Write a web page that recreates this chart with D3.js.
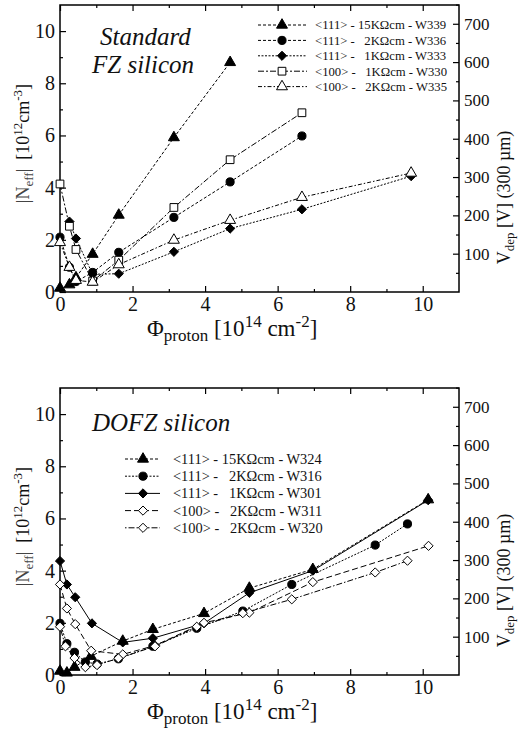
<!DOCTYPE html>
<html><head><meta charset="utf-8">
<script src="https://cdn.jsdelivr.net/npm/d3@7"></script>
<style>
body{margin:0;background:#fff}
svg{display:block}
text{font-family:"Liberation Serif","Times New Roman",serif;fill:#111}
</style>
</head><body>
<svg id="c" width="520" height="729"></svg>
<script>
// ---------- data ----------
const xMajorTicks = [0, 2, 4, 6, 8, 10];
const xMinorTicks = [1, 3, 5, 7, 9];
const yMajorTicks = [0, 2, 4, 6, 8, 10];
const yMinorTicks = [1, 3, 5, 7, 9];
const vMajorTicks = [100, 200, 300, 400, 500, 600, 700];
const vMinorTicks = [50, 150, 250, 350, 450, 550, 650, 750];

// Standard FZ silicon: [fluence 1e14 cm^-2, |Neff| 1e12 cm^-3]
const topW339 = [[0,0.15],[0.26,0.28],[0.44,0.55],[0.9,1.45],[1.62,2.95],[3.14,5.92],[4.69,8.8]];
const topW336 = [[0,2.1],[0.26,0.95],[0.44,0.4],[0.9,0.75],[1.62,1.52],[3.14,2.86],[4.69,4.22],[6.67,5.98]];
const topW333 = [[0.26,2.7],[0.44,2.05],[0.9,0.68],[1.62,0.7],[3.14,1.54],[4.69,2.43],[6.67,3.17],[9.68,4.44]];
const topW330 = [[0,4.14],[0.26,2.52],[0.44,1.63],[0.9,0.42],[1.62,1.22],[3.14,3.24],[4.69,5.07],[6.67,6.87]];
const topW335 = [[0,1.9],[0.26,0.95],[0.44,0.45],[0.9,0.38],[1.62,1.05],[3.14,1.99],[4.69,2.75],[6.67,3.63],[9.68,4.56]];
const topLabels = ["<111> - 15K\u03A9cm - W339","<111> -   2K\u03A9cm - W336","<111> -   1K\u03A9cm - W333","<100> -   1K\u03A9cm - W330","<100> -   2K\u03A9cm - W335"];

// DOFZ silicon
const botW324 = [[0,0.15],[0.19,0.08],[0.4,0.3],[0.85,0.72],[1.73,1.3],[2.56,1.75],[3.97,2.36],[5.22,3.33],[6.97,4.05],[10.15,6.72]];
const botW316 = [[0,1.98],[0.19,1.2],[0.4,0.87],[0.7,0.5],[1.02,0.42],[1.61,0.62],[2.56,1.1],[3.77,1.79],[5.04,2.45],[6.39,3.47],[8.69,4.98],[9.58,5.79]];
const botW301 = [[0,4.37],[0.19,3.47],[0.42,2.98],[0.88,1.98],[1.73,1.25],[2.56,1.41],[3.97,1.98],[5.22,3.15],[6.97,4.0],[10.15,6.7]];
const botW311 = [[0,3.47],[0.19,2.55],[0.42,1.95],[0.86,0.93],[1.73,0.79],[2.62,1.13],[3.97,2.0],[5.22,2.39],[6.97,3.56],[10.16,4.95]];
const botW320 = [[0,1.85],[0.15,1.1],[0.4,0.65],[0.7,0.3],[1.02,0.38],[1.61,0.64],[2.62,1.1],[3.77,1.85],[5.04,2.37],[6.39,2.9],[8.69,3.93],[9.58,4.38]];
const botLabels = ["<111> - 15K\u03A9cm - W324","<111> -   2K\u03A9cm - W316","<111> -   1K\u03A9cm - W301","<100> -   2K\u03A9cm - W311","<100> -   2K\u03A9cm - W320"];

// ---------- drawing ----------
const svg = d3.select("#c");
const X0 = 60, X1 = 459;
const x = d3.scaleLinear().domain([0, 11]).range([X0, X1]);

function symPath(kind) {
  if (kind === "tri") return d3.symbol(d3.symbolTriangle, 52)();
  if (kind === "circ") return d3.symbol(d3.symbolCircle, 52)();
  if (kind === "sq") return d3.symbol(d3.symbolSquare, 60)();
  if (kind === "dia") return "M0,-4.6L4.6,0L0,4.6L-4.6,0Z";
}

function drawMarker(g, kind, filled, cx, cy) {
  g.append("path").attr("d", symPath(kind))
    .attr("transform", `translate(${cx},${cy})`)
    .attr("fill", filled ? "#000" : "#fff")
    .attr("stroke", "#000").attr("stroke-width", 1);
}

function panel(yTop, yBot, series, labels, legend, titleLines, titleX, titleY0) {
  const y = d3.scaleLinear().domain([0, 11]).range([yBot, yTop]);
  const v = d3.scaleLinear().domain([0, 749]).range([yBot, yTop]);
  const g = svg.append("g");

  // axes (ticks inward)
  const ax = (a) => a.tickSizeOuter(0);
  g.append("g").attr("transform", `translate(0,${yBot})`)
    .call(ax(d3.axisBottom(x).tickValues(xMajorTicks).tickSize(-6).tickPadding(5).tickFormat(d3.format("d"))))
    .call(s => s.selectAll("text").attr("font-size", 20).style("font-family", "Liberation Serif"));
  g.append("g").attr("transform", `translate(0,${yBot})`)
    .call(ax(d3.axisBottom(x).tickValues(xMinorTicks).tickSize(-3).tickFormat("")));
  g.append("g").attr("transform", `translate(0,${yTop})`)
    .call(ax(d3.axisTop(x).tickValues(xMajorTicks).tickSize(-6).tickFormat("")));
  g.append("g").attr("transform", `translate(0,${yTop})`)
    .call(ax(d3.axisTop(x).tickValues(xMinorTicks).tickSize(-3).tickFormat("")));
  g.append("g").attr("transform", `translate(${X0},0)`)
    .call(ax(d3.axisLeft(y).tickValues(yMajorTicks).tickSize(-6).tickPadding(5).tickFormat(d3.format("d"))))
    .call(s => s.selectAll("text").attr("font-size", 20).style("font-family", "Liberation Serif"));
  g.append("g").attr("transform", `translate(${X0},0)`)
    .call(ax(d3.axisLeft(y).tickValues(yMinorTicks).tickSize(-3).tickFormat("")));
  g.append("g").attr("transform", `translate(${X1},0)`)
    .call(ax(d3.axisRight(v).tickValues(vMajorTicks).tickSize(-6).tickPadding(5).tickFormat(d3.format("d"))))
    .call(s => s.selectAll("text").attr("font-size", 17).style("font-family", "Liberation Serif"));
  g.append("g").attr("transform", `translate(${X1},0)`)
    .call(ax(d3.axisRight(v).tickValues(vMinorTicks).tickSize(-3).tickFormat("")));
  g.selectAll(".domain").remove();
  g.selectAll(".tick line").attr("stroke", "#000").attr("stroke-width", 1.2);

  g.append("rect").attr("x", X0).attr("y", yTop).attr("width", X1 - X0).attr("height", yBot - yTop)
    .attr("fill", "none").attr("stroke", "#000").attr("stroke-width", 1.5);

  // data
  const line = d3.line().x(d => x(d[0])).y(d => y(d[1]));
  series.forEach(s => {
    g.append("path").attr("d", line(s.data)).attr("fill", "none")
      .attr("stroke", "#000").attr("stroke-width", 1)
      .attr("stroke-dasharray", s.dash);
  });
  series.forEach(s => {
    s.data.forEach(d => drawMarker(g, s.kind, s.filled, x(d[0]), y(d[1])));
  });

  // legend
  series.forEach((s, i) => {
    const ly = legend.y0 + i * legend.dy;
    g.append("line").attr("x1", legend.lx0).attr("x2", legend.lx1).attr("y1", ly).attr("y2", ly)
      .attr("stroke", "#000").attr("stroke-width", 1).attr("stroke-dasharray", s.dash);
    drawMarker(g, s.kind, s.filled, legend.mx, ly);
    g.append("text").attr("x", legend.tx).attr("y", ly).attr("dy", "0.35em")
      .attr("font-size", legend.fs).style("white-space", "pre").text(labels[i]);
  });

  // title
  titleLines.forEach((t, i) => {
    g.append("text").attr("x", titleX[i]).attr("y", titleY0 + i * 28)
      .attr("font-size", 25).attr("font-style", "italic").text(t);
  });

  // y title (left)
  const cyL = (yTop + yBot) / 2 - 5;
  const tl = g.append("text").attr("transform", `translate(29,${cyL}) rotate(-90)`)
    .attr("text-anchor", "middle").attr("font-size", 18);
  tl.append("tspan").attr("fill", "#444").text("|N");
  tl.append("tspan").attr("fill", "#444").attr("font-size", 13).attr("dy", 4).text("eff");
  tl.append("tspan").attr("fill", "#444").attr("dy", -4).text("|");
  tl.append("tspan").style("white-space", "pre").text("  [10");
  tl.append("tspan").attr("font-size", 13).attr("dy", -7).text("12");
  tl.append("tspan").attr("dy", 7).text("cm");
  tl.append("tspan").attr("font-size", 13).attr("dy", -7).text("-3");
  tl.append("tspan").attr("dy", 7).text("]");

  // y title (right)
  const cyR = (yTop + yBot) / 2 + 49;
  const tr = g.append("text").attr("transform", `translate(510,${cyR}) rotate(-90)`)
    .attr("text-anchor", "middle").attr("font-size", 18);
  tr.append("tspan").text("V");
  tr.append("tspan").attr("font-size", 13).attr("dy", 4).text("dep");
  tr.append("tspan").attr("dy", -4).style("white-space", "pre").text(" [V] (300 \u00B5m)");

  // x title
  const tx = g.append("text").attr("x", 147).attr("y", yBot + 44).attr("font-size", 23);
  tx.append("tspan").text("\u03A6");
  tx.append("tspan").attr("font-size", 17).attr("dy", 5).text("proton");
  tx.append("tspan").attr("dy", -5).style("white-space", "pre").text(" [10");
  tx.append("tspan").attr("font-size", 17).attr("dy", -9).text("14");
  tx.append("tspan").attr("dy", 9).style("white-space", "pre").text(" cm");
  tx.append("tspan").attr("font-size", 17).attr("dy", -9).text("-2");
  tx.append("tspan").attr("dy", 9).text("]");
}

panel(5, 292, [
  {data: topW339, kind: "tri", filled: true, dash: "3,2"},
  {data: topW336, kind: "circ", filled: true, dash: "3,2"},
  {data: topW333, kind: "dia", filled: true, dash: "2,1.5"},
  {data: topW330, kind: "sq", filled: false, dash: "6,2,2,2"},
  {data: topW335, kind: "tri", filled: false, dash: "4,2,1.5,2"}
], topLabels, {y0: 25, dy: 15.4, lx0: 258, lx1: 307, mx: 282, tx: 315, fs: 12.7},
["Standard", "FZ silicon"], [100, 92], 45);

panel(388, 675, [
  {data: botW324, kind: "tri", filled: true, dash: "3,2"},
  {data: botW316, kind: "circ", filled: true, dash: "2,1.5"},
  {data: botW301, kind: "dia", filled: true, dash: null},
  {data: botW311, kind: "dia", filled: false, dash: "6,3"},
  {data: botW320, kind: "dia", filled: false, dash: "1.5,2,6,2"}
], botLabels, {y0: 459, dy: 17.2, lx0: 125, lx1: 160, mx: 143, tx: 173, fs: 14.4},
["DOFZ silicon"], [92], 431);
</script>
</body></html>
